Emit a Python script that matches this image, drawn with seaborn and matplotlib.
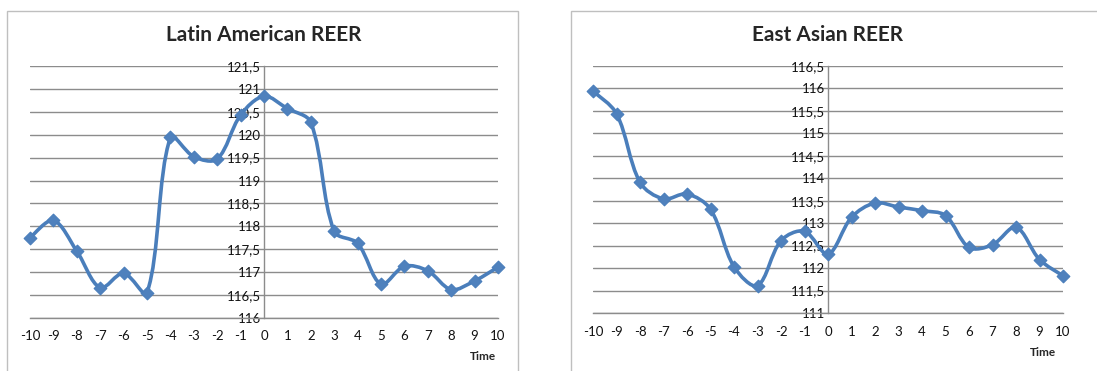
"""
REER em torno do evento (t = -10 ... 10)
"""

import numpy as np
import pandas as pd
import matplotlib
matplotlib.use('Agg')
import matplotlib.pyplot as plt
import seaborn as sns
from matplotlib.path import Path
from matplotlib.patches import PathPatch, Rectangle
from matplotlib.ticker import FuncFormatter

# Dados
time = [-10, -9, -8, -7, -6, -5, -4, -3, -2, -1, 0, 1, 2, 3, 4, 5, 6, 7, 8, 9, 10]
latam_reer = [117.75, 118.13, 117.46, 116.66, 116.98, 116.55, 119.94, 119.52, 119.47, 120.43, 120.84,
              120.57, 120.27, 117.89, 117.63, 116.74, 117.13, 117.03, 116.62, 116.81, 117.11]
east_asia_reer = [115.94, 115.44, 113.91, 113.54, 113.65, 113.31, 112.03, 111.61, 112.61, 112.82, 112.31,
                  113.13, 113.45, 113.36, 113.28, 113.17, 112.46, 112.52, 112.91, 112.19, 111.83]
latam_yticks = [116, 116.5, 117, 117.5, 118, 118.5, 119, 119.5, 120, 120.5, 121, 121.5]
east_asia_yticks = [111, 111.5, 112, 112.5, 113, 113.5, 114, 114.5, 115, 115.5, 116, 116.5]

LINE_COLOR = '#4A7EBB'
MARKER_COLOR = '#4F81BD'
GRID_COLOR = '#8C8C8C'
FIG_W, FIG_H = 1097, 371


def smooth_path(ax, x, y):
    # curva suavizada estilo Excel: Bezier com tangentes ponderadas pelo
    # comprimento dos segmentos (medido em pixels)
    pts = np.column_stack([x, y]).astype(float)
    pix = ax.transData.transform(pts)
    n = len(pts)
    seg = np.hypot(*np.diff(pix, axis=0).T)
    verts = [pts[0]]
    codes = [Path.MOVETO]
    for i in range(n - 1):
        p0 = pts[max(i - 1, 0)]
        p1 = pts[i]
        p2 = pts[i + 1]
        p3 = pts[min(i + 2, n - 1)]
        d01 = seg[i - 1] if i > 0 else seg[i]
        d12 = seg[i]
        d23 = seg[i + 1] if i + 1 < n - 1 else seg[i]
        f1 = d12 / (d01 + d12) / 3
        f2 = d12 / (d12 + d23) / 3
        verts += [p1 + (p2 - p0) * f1, p2 - (p3 - p1) * f2, p2]
        codes += [Path.CURVE4] * 3
    return Path(verts, codes)


def draw_panel(fig, rect, df, col, yticks, title, time_xy):
    ax = fig.add_axes(rect)
    ax.set_xlim(-10, 10)
    ax.set_ylim(yticks[0], yticks[-1])

    ax.add_patch(PathPatch(smooth_path(ax, df['time'], df[col]), facecolor='none',
                           edgecolor=LINE_COLOR, lw=2.6, capstyle='round', joinstyle='round',
                           zorder=3, clip_on=False))
    sns.scatterplot(data=df, x='time', y=col, ax=ax, marker='D', s=42, color=MARKER_COLOR,
                    edgecolor=LINE_COLOR, linewidth=0.8, zorder=4, clip_on=False, legend=False)

    ax.set_xlim(-10, 10)
    ax.set_ylim(yticks[0], yticks[-1])
    ax.set_xticks(df['time'])
    ax.set_yticks(yticks)
    ax.yaxis.set_major_formatter(FuncFormatter(lambda v, p: f'{v:g}'.replace('.', ',')))
    ax.grid(axis='y', color=GRID_COLOR, lw=1.0)
    ax.set_axisbelow(True)

    for s in ['top', 'right']:
        ax.spines[s].set_visible(False)
    ax.spines['left'].set_position(('data', 0))
    ax.spines['left'].set_color(GRID_COLOR)
    ax.spines['bottom'].set_color(GRID_COLOR)
    ax.spines['left'].set_linewidth(1.0)
    ax.spines['bottom'].set_linewidth(1.0)

    ax.tick_params(axis='y', length=0, pad=2, labelsize=9.5, labelcolor='#111111')
    ax.tick_params(axis='x', length=4, width=1, color=GRID_COLOR, pad=5, labelsize=9.5,
                   labelcolor='#111111')
    ax.set_xlabel('')
    ax.set_ylabel('')

    x0, w = rect[0], rect[2]
    fig.text(x0 + w / 2, 1 - 35 / FIG_H, title, ha='center', va='center',
             fontsize=15, fontweight='bold')
    fig.text(time_xy[0] / FIG_W, 1 - time_xy[1] / FIG_H, 'Time', ha='center', va='center',
             fontsize=8.5, fontweight='bold')
    return ax


def plot_reer():
    df = pd.DataFrame({'time': time, 'latam': latam_reer, 'east_asia': east_asia_reer})

    sns.set_style('white')
    plt.rcParams['font.family'] = ['Lato', 'DejaVu Sans']
    plt.rcParams['axes.unicode_minus'] = False

    fig = plt.figure(figsize=(FIG_W / 100, FIG_H / 100), dpi=100)
    fig.patch.set_facecolor('white')

    # molduras dos dois gráficos
    for x0, x1 in [(7, 518), (571, 1105)]:
        fig.add_artist(Rectangle((x0 / FIG_W, -0.02), (x1 - x0) / FIG_W, (FIG_H - 11) / FIG_H + 0.02,
                                 transform=fig.transFigure, facecolor='none',
                                 edgecolor='#BFBFBF', lw=1.0))

    draw_panel(fig, [30 / FIG_W, 1 - 318 / FIG_H, 468 / FIG_W, 252 / FIG_H], df, 'latam',
               latam_yticks, 'Latin American REER', (483, 356))
    draw_panel(fig, [593 / FIG_W, 1 - 313 / FIG_H, 470 / FIG_W, 247 / FIG_H], df, 'east_asia',
               east_asia_yticks, 'East Asian REER', (1043, 352))

    fig.savefig('out.png', dpi=100)
    print('out.png salvo')


if __name__ == "__main__":
    plot_reer()
